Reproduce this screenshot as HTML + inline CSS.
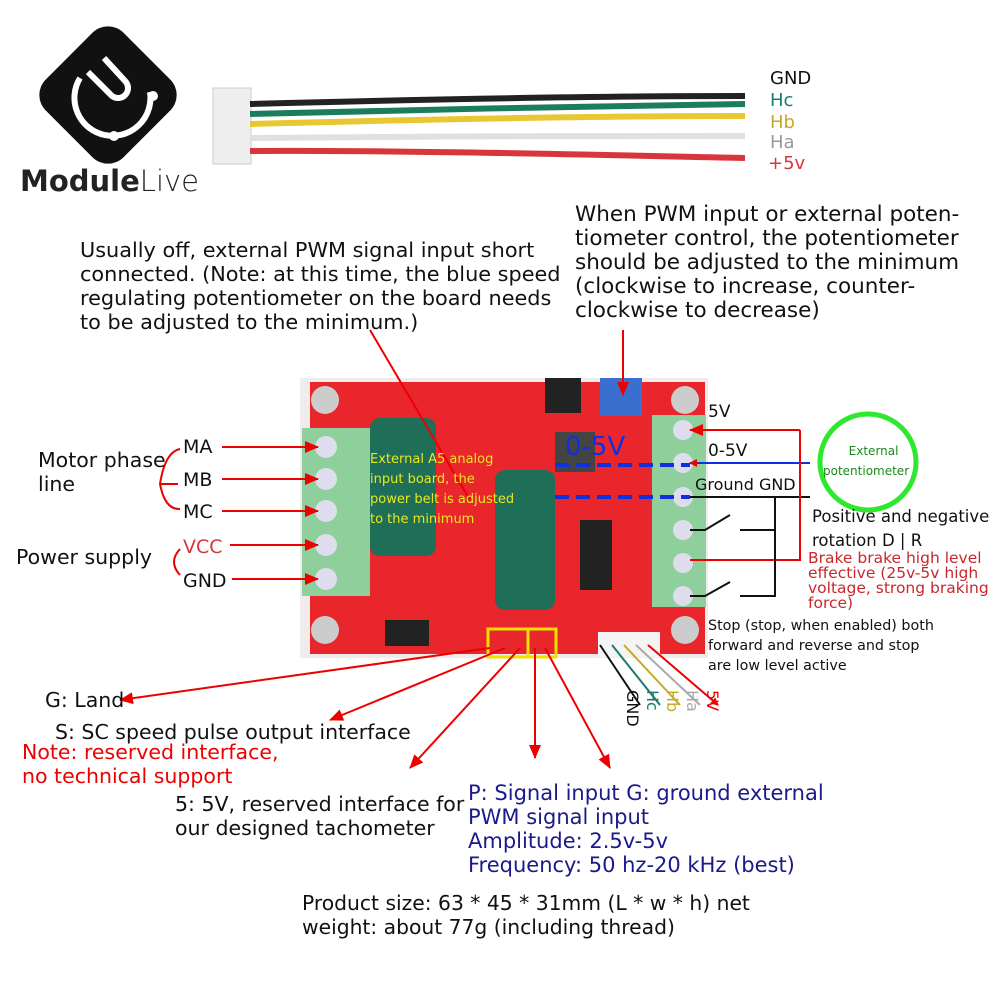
<!DOCTYPE html>
<html><head><meta charset="utf-8"><style>
body{margin:0;width:1000px;height:1000px;background:#fff;position:relative;overflow:hidden;font-family:"DejaVu Sans","Liberation Sans",sans-serif}
.t{position:absolute;white-space:nowrap;color:#111}
</style></head><body>
<svg width="1000" height="1000" style="position:absolute;left:0;top:0">
<defs><marker id="a" markerWidth="8" markerHeight="8" refX="7" refY="4" orient="auto" markerUnits="userSpaceOnUse"><path d="M0,0L8,4L0,8z" fill="#e00"/></marker>
<marker id="ab" markerWidth="14" markerHeight="12" refX="13" refY="6" orient="auto" markerUnits="userSpaceOnUse"><path d="M0,0L14,6L0,12z" fill="#e00"/></marker></defs>
<rect x="53" y="40" width="110" height="110" rx="22" fill="#111" transform="rotate(45 108 95)"/>
<path d="M80,78 A38,38 0 1 0 150,92" stroke="#fff" stroke-width="6" fill="none"/>
<path d="M88,72 L112,96 A10,10 0 0 0 126,82 L104,58" stroke="#fff" stroke-width="6" fill="none"/>
<circle cx="153" cy="96" r="5" fill="#fff"/><circle cx="114" cy="136" r="5" fill="#fff"/>
<rect x="213" y="88" width="38" height="76" fill="#eee" stroke="#ccc"/>
<path d="M250,104 C400,100 600,96 745,96" stroke="#222" stroke-width="6" fill="none"/>
<path d="M250,114 C400,110 600,106 745,104" stroke="#1a7d5e" stroke-width="6" fill="none"/>
<path d="M250,124 C400,120 600,116 745,116" stroke="#e8c830" stroke-width="6" fill="none"/>
<path d="M250,138 C400,136 600,136 745,136" stroke="#e0e0e0" stroke-width="6" fill="none"/>
<path d="M250,151 C400,150 600,155 745,158" stroke="#d8363c" stroke-width="6" fill="none"/>
<rect x="300" y="378" width="408" height="280" fill="#f0ecec"/>
<rect x="310" y="382" width="395" height="272" fill="#e8262c"/>
<circle cx="325" cy="400" r="14" fill="#ccc"/><circle cx="685" cy="400" r="14" fill="#ccc"/>
<circle cx="325" cy="630" r="14" fill="#ccc"/><circle cx="685" cy="630" r="14" fill="#ccc"/>
<rect x="302" y="428" width="68" height="168" fill="#8fcf9c"/>
<g fill="#dde"><circle cx="326" cy="447" r="11"/><circle cx="326" cy="479" r="11"/><circle cx="326" cy="511" r="11"/><circle cx="326" cy="545" r="11"/><circle cx="326" cy="579" r="11"/></g>
<rect x="652" y="415" width="54" height="192" fill="#8fcf9c"/>
<g fill="#dde"><circle cx="683" cy="430" r="10"/><circle cx="683" cy="463" r="10"/><circle cx="683" cy="497" r="10"/><circle cx="683" cy="530" r="10"/><circle cx="683" cy="563" r="10"/><circle cx="683" cy="596" r="10"/></g>
<rect x="370" y="418" width="66" height="138" rx="10" fill="#1e6e58"/>
<rect x="495" y="470" width="60" height="140" rx="10" fill="#1e6e58"/>
<rect x="600" y="378" width="42" height="38" fill="#3a6fd0"/>
<rect x="545" y="378" width="36" height="35" fill="#222"/>
<rect x="555" y="432" width="40" height="40" fill="#444"/>
<rect x="580" y="520" width="32" height="70" fill="#222"/>
<rect x="385" y="620" width="44" height="26" fill="#222"/>
<rect x="598" y="632" width="62" height="25" fill="#f4f4f4"/>
<rect x="488" y="629" width="40" height="28" fill="none" stroke="#f0e000" stroke-width="3"/>
<rect x="528" y="629" width="28" height="28" fill="none" stroke="#f0e000" stroke-width="3"/>
<path d="M555,465 H690 M555,497 H690" stroke="#1030e0" stroke-width="4" stroke-dasharray="14,7"/>
<path d="M810,463 H690" stroke="#1030e0" stroke-width="2" marker-end="url(#a)"/>
<path d="M810,497 H690" stroke="#111" stroke-width="2"/>
<g stroke="#e00" stroke-width="2" fill="none">
<path d="M222,447 H318" marker-end="url(#ab)"/><path d="M222,479 H318" marker-end="url(#ab)"/><path d="M222,511 H318" marker-end="url(#ab)"/>
<path d="M230,545 H318" marker-end="url(#ab)"/><path d="M232,579 H318" marker-end="url(#ab)"/>
<path d="M180,449 Q165,452 160,484 Q165,510 180,509"/><path d="M160,484 H178"/>
<path d="M180,549 Q168,562 180,575"/>
<path d="M623,330 V395" marker-end="url(#ab)"/>
<path d="M370,330 L470,500"/>
<path d="M800,430 H690" marker-end="url(#ab)"/><path d="M800,430 V560 H690"/>
<path d="M490,648 L120,700" marker-end="url(#ab)"/>
<path d="M505,648 L330,720" marker-end="url(#ab)"/>
<path d="M520,648 L410,768" marker-end="url(#ab)"/>
<path d="M535,648 V758" marker-end="url(#ab)"/>
<path d="M545,648 L610,768" marker-end="url(#ab)"/>
</g>
<circle cx="868" cy="462" r="48" fill="none" stroke="#2ee82e" stroke-width="5"/>
<g stroke="#111" stroke-width="2" fill="none"><path d="M690,530 H705 L730,515 M740,530 H775 V497 M740,596 H775 V530 M690,596 H705 L730,582"/></g>
<g stroke-width="2" fill="none"><path d="M600,645 L640,705" stroke="#111"/><path d="M612,645 L660,705" stroke="#1a7d6e"/><path d="M624,645 L680,705" stroke="#c8a820"/><path d="M636,645 L700,705" stroke="#aaa"/><path d="M648,645 L718,705" stroke="#e00" marker-end="url(#a)"/></g>
</svg>
<div class="t" style="left:20px;top:164px;font-size:29px;color:#222"><b>Module</b><span style="font-weight:300">Live</span></div>
<div class="t" style="left:770px;top:68px;font-size:18px">GND</div>
<div class="t" style="left:770px;top:90px;font-size:18px;color:#1a7d6e">Hc</div>
<div class="t" style="left:770px;top:112px;font-size:18px;color:#c8a820">Hb</div>
<div class="t" style="left:770px;top:132px;font-size:18px;color:#999">Ha</div>
<div class="t" style="left:768px;top:153px;font-size:18px;color:#d8363c">+5v</div>
<div class="t" style="left:80px;top:238px;font-size:20.8px;line-height:24px">Usually off, external PWM signal input short<br>connected. (Note: at this time, the blue speed<br>regulating potentiometer on the board needs<br>to be adjusted to the minimum.)</div>
<div class="t" style="left:575px;top:203px;font-size:21.5px;line-height:24px">When PWM input or external poten-<br>tiometer control, the potentiometer<br>should be adjusted to the minimum<br>(clockwise to increase, counter-<br>clockwise to decrease)</div>
<div class="t" style="left:370px;top:450px;font-size:13px;line-height:20px;color:#e8e820">External A5 analog<br>input board, the<br>power belt is adjusted<br>to the minimum</div>
<div class="t" style="left:565px;top:432px;font-size:26px;color:#1030e0">0-5V</div>
<div class="t" style="left:38px;top:448px;font-size:20.5px;line-height:24px">Motor phase<br>line</div>
<div class="t" style="left:183px;top:436px;font-size:19px">MA</div>
<div class="t" style="left:183px;top:469px;font-size:19px">MB</div>
<div class="t" style="left:183px;top:501px;font-size:19px">MC</div>
<div class="t" style="left:183px;top:536px;font-size:19px;color:#d8363c">VCC</div>
<div class="t" style="left:183px;top:570px;font-size:19px">GND</div>
<div class="t" style="left:16px;top:545px;font-size:20.5px">Power supply</div>
<div class="t" style="left:708px;top:402px;font-size:17px">5V</div>
<div class="t" style="left:708px;top:441px;font-size:17px">0-5V</div>
<div class="t" style="left:695px;top:475px;font-size:16px">Ground GND</div>
<div class="t" style="left:838px;top:441px;font-size:12px;line-height:20px;color:#1a8a1a;text-align:center">External<br><span style="margin-left:-15px">potentiometer</span></div>
<div class="t" style="left:812px;top:505px;font-size:16.5px;line-height:24px">Positive and negative<br>rotation D | R</div>
<div class="t" style="left:808px;top:551px;font-size:15.5px;line-height:15px;color:#c8282c">Brake brake high level<br>effective (25v-5v high<br>voltage, strong braking<br>force)</div>
<div class="t" style="left:708px;top:616px;font-size:14.3px;line-height:20px">Stop (stop, when enabled) both<br>forward and reverse and stop<br>are low level active</div>
<div class="t" style="left:45px;top:688px;font-size:20.5px">G: Land</div>
<div class="t" style="left:55px;top:720px;font-size:20.5px">S: SC speed pulse output interface</div>
<div class="t" style="left:22px;top:740px;font-size:20.5px;line-height:24px;color:#e00">Note: reserved interface,<br>no technical support</div>
<div class="t" style="left:175px;top:792px;font-size:20.5px;line-height:24px">5: 5V, reserved interface for<br>our designed tachometer</div>
<div class="t" style="left:468px;top:781px;font-size:21px;line-height:24px;color:#1a1a8a">P: Signal input G: ground external<br>PWM signal input<br>Amplitude: 2.5v-5v<br>Frequency: 50 hz-20 kHz (best)</div>
<div class="t" style="left:302px;top:891px;font-size:20.3px;line-height:24px">Product size: 63 * 45 * 31mm (L * w * h) net<br>weight: about 77g (including thread)</div>
<div class="t" style="left:642px;top:690px;font-size:16px;transform:rotate(90deg);transform-origin:0 0">GND</div>
<div class="t" style="left:662px;top:690px;font-size:16px;transform:rotate(90deg);transform-origin:0 0;color:#1a7d6e">Hc</div>
<div class="t" style="left:682px;top:690px;font-size:16px;transform:rotate(90deg);transform-origin:0 0;color:#c8a820">Hb</div>
<div class="t" style="left:702px;top:690px;font-size:16px;transform:rotate(90deg);transform-origin:0 0;color:#aaa">Ha</div>
<div class="t" style="left:722px;top:690px;font-size:16px;transform:rotate(90deg);transform-origin:0 0;color:#e00">5V</div>
</body></html>
